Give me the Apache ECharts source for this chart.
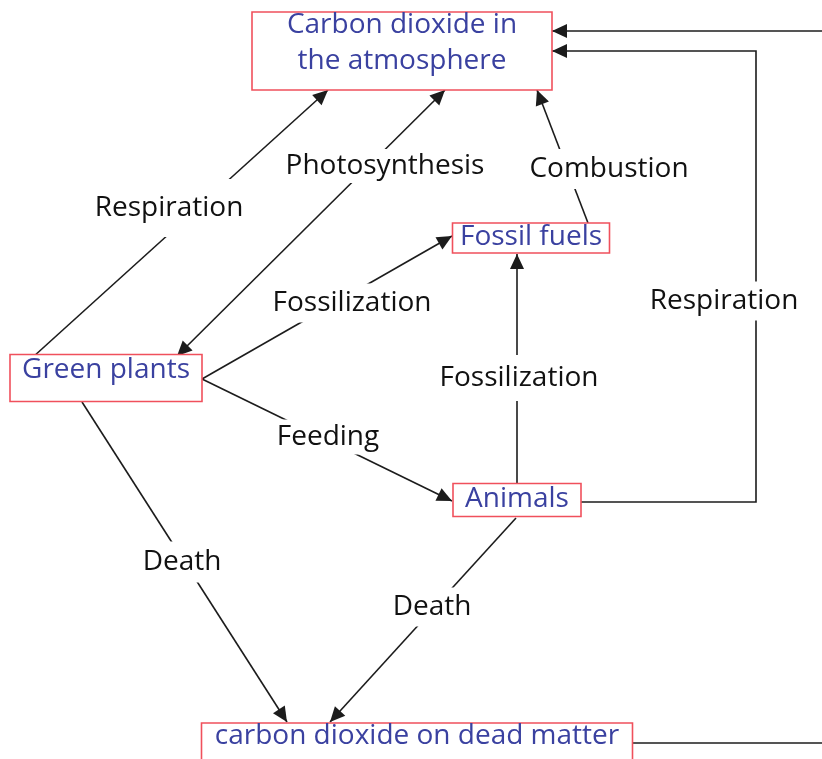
<!DOCTYPE html>
<html><head><meta charset="utf-8">
<script src="https://cdn.jsdelivr.net/npm/echarts@6/dist/echarts.min.js"></script>
<style>html,body{margin:0;padding:0;background:#fff}#c{width:822px;height:759px}</style>
</head><body><div id="c"></div>
<script>
// ---- data (diagram units) ----
const nodeNames = ['Carbon dioxide in\nthe atmosphere', 'Green plants', 'Fossil fuels', 'Animals', 'carbon dioxide on dead matter'];
const nodeX = [402, 106, 531, 517, 417];
const nodeY = [51, 378, 238, 500, 748];

const edgeNames = ['Respiration', 'Photosynthesis', 'Fossilization', 'Feeding', 'Death', 'Death', 'Fossilization', 'Combustion', 'Respiration', '', ''];
const edgePoints = [
  [[33, 357], [328, 90]],
  [[445, 90], [177, 356]],
  [[202, 379], [452, 236]],
  [[202, 379], [452, 501]],
  [[82, 402], [287, 722]],
  [[516, 518], [330, 722]],
  [[517, 484], [517, 254]],
  [[588, 223], [537, 90]],
  [[581, 502], [756, 502], [756, 51], [552, 51]],
  [[822, 31], [552, 31]],
  [[632, 743], [822, 743]]
];
const edgeArrows = ['end', 'both', 'end', 'end', 'end', 'end', 'end', 'end', 'end', 'end', 'none'];

const labelTexts = ['Respiration', 'Photosynthesis', 'Fossilization', 'Feeding', 'Death', 'Death', 'Fossilization', 'Combustion', 'Respiration'];
const labelX = [169, 385, 352, 328, 182, 432, 519, 609, 724];
const labelY = [208, 166, 303, 437, 562, 607, 378, 169, 301];

// ---- styles / layout ----
const FONT_FAMILY = '"Open Sans", "Noto Sans", sans-serif';
const FONT_SIZE = 28;
const NODE_COLOR = '#3a41a0';
const BOX_STROKE = '#f0505c';
const LINE_COLOR = '#1c1c1c';
const nodeLayout = [
  { w: 300, h: 78, dy: -8 },
  { w: 192, h: 47, dy: -8 },
  { w: 157, h: 30, dy: -1 },
  { w: 128, h: 33, dy: -1 },
  { w: 431, h: 50, dy: -12 }
];
const labelPad = [
  [15, 4, 13, 4], [2, 4, 2, 4], [0, 4, 9, 4], [0, 4, 5, 4], [5, 4, 6, 4],
  [2, 4, 7, 4], [6, 4, 10, 4], [5, 4, 5, 4], [3, 4, 6, 4]
];
const ARROW_LEN = 15, ARROW_HALF = 7;

function arrowHead(tip, from) {
  const dx = tip[0] - from[0], dy = tip[1] - from[1];
  const len = Math.sqrt(dx * dx + dy * dy);
  const ux = dx / len, uy = dy / len;
  const bx = tip[0] - ux * ARROW_LEN, by = tip[1] - uy * ARROW_LEN;
  return {
    type: 'polygon',
    shape: { points: [tip, [bx - uy * ARROW_HALF, by + ux * ARROW_HALF], [bx + uy * ARROW_HALF, by - ux * ARROW_HALF]] },
    style: { fill: LINE_COLOR, stroke: null }
  };
}

function renderEdge(params, api) {
  const i = params.dataIndex;
  const pts = edgePoints[i].map(p => api.coord(p));
  const children = [{
    type: 'polyline',
    shape: { points: pts },
    style: { stroke: LINE_COLOR, lineWidth: 1.6, fill: null }
  }];
  const mode = edgeArrows[i];
  if (mode === 'end' || mode === 'both') children.push(arrowHead(pts[pts.length - 1], pts[pts.length - 2]));
  if (mode === 'start' || mode === 'both') children.push(arrowHead(pts[0], pts[1]));
  return { type: 'group', children };
}

function renderLabel(params, api) {
  const i = params.dataIndex;
  const c = api.coord([labelX[i], labelY[i]]);
  return {
    type: 'text', x: c[0], y: c[1],
    style: {
      text: labelTexts[i], fill: '#111', fontSize: FONT_SIZE, fontFamily: FONT_FAMILY,
      align: 'center', verticalAlign: 'middle', lineHeight: 30,
      backgroundColor: '#fff', padding: labelPad[i]
    }
  };
}

function renderNode(params, api) {
  const i = params.dataIndex;
  const c = api.coord([nodeX[i], nodeY[i]]);
  const L = nodeLayout[i];
  return {
    type: 'group', children: [
      { type: 'rect', shape: { x: c[0] - L.w / 2, y: c[1] - L.h / 2, width: L.w, height: L.h },
        style: { fill: '#fff', stroke: BOX_STROKE, lineWidth: 1.6 } },
      { type: 'text', x: c[0], y: c[1] + L.dy,
        style: { text: nodeNames[i], fill: NODE_COLOR, fontSize: FONT_SIZE, fontFamily: FONT_FAMILY,
          align: 'center', verticalAlign: 'middle', lineHeight: 36 } }
    ]
  };
}

const chart = echarts.init(document.getElementById('c'), null, { renderer: 'canvas' });
chart.setOption({
  animation: false,
  backgroundColor: '#fff',
  grid: { left: 0, right: 0, top: 0, bottom: 0 },
  xAxis: { type: 'value', min: 0, max: 822, show: false },
  yAxis: { type: 'value', min: 0, max: 759, inverse: true, show: false },
  series: [
    { type: 'custom', name: 'edges', coordinateSystem: 'cartesian2d', clip: false, z: 1,
      renderItem: renderEdge, data: edgeNames.map((n, i) => [i, 0]) },
    { type: 'custom', name: 'labels', coordinateSystem: 'cartesian2d', clip: false, z: 2,
      renderItem: renderLabel, data: labelTexts.map((n, i) => [i, 0]) },
    { type: 'custom', name: 'nodes', coordinateSystem: 'cartesian2d', clip: false, z: 3,
      renderItem: renderNode, data: nodeNames.map((n, i) => [i, 0]) }
  ]
});
</script>
</body></html>
